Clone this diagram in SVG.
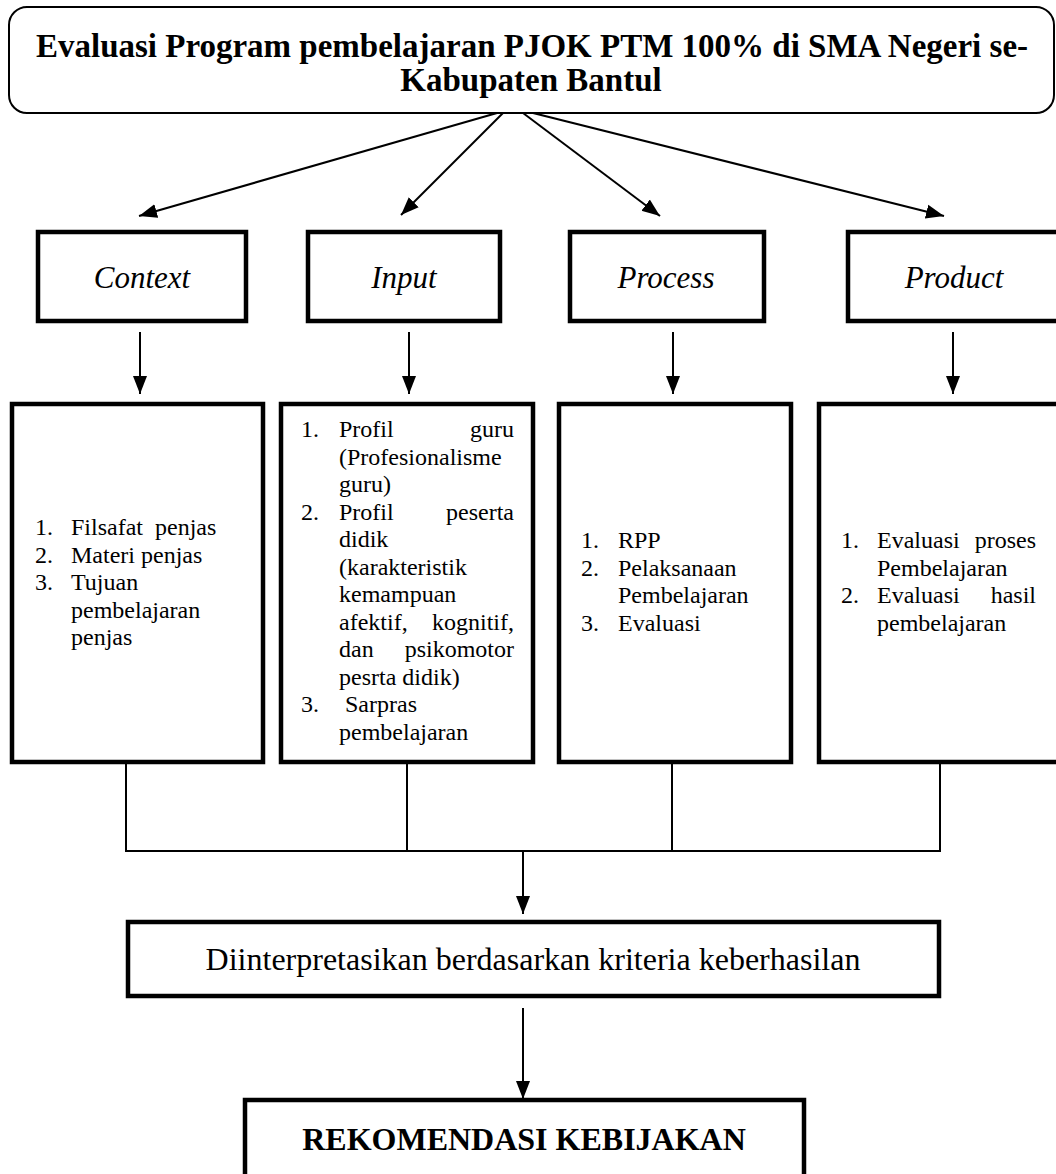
<svg xmlns="http://www.w3.org/2000/svg" width="1056" height="1174" viewBox="0 0 1056 1174">
<style>
  text { font-family: "Liberation Serif", "Times New Roman", serif; fill: #000; }
  .title { font-size: 33px; font-weight: bold; text-anchor: middle; }
  .rek { font-size: 32px; font-weight: bold; text-anchor: middle; }
  .label { font-size: 31px; font-style: italic; text-anchor: middle; }
  .item { font-size: 24px; }
  .end { text-anchor: end; }
  .mid { font-size: 32px; text-anchor: middle; }
  .box { fill: #fff; stroke: #000; stroke-width: 4.5; }
  .thin { fill: #fff; stroke: #000; stroke-width: 2; }
  .conn { fill: none; stroke: #000; stroke-width: 2; }
</style>
<defs>
  <marker id="ah" markerUnits="userSpaceOnUse" markerWidth="20" markerHeight="16" viewBox="0 0 20 16" refX="18" refY="8" orient="auto">
    <path d="M0,1 L18,8 L0,15 Z" fill="#000"/>
  </marker>
</defs>
<rect width="1056" height="1174" fill="#fff"/>

<g id="title">
  <rect class="thin" x="9" y="7" width="1045" height="106" rx="18" ry="18"/>
  <text class="title" x="532" y="57">Evaluasi Program pembelajaran PJOK PTM 100% di SMA Negeri se-</text>
  <text class="title" x="531" y="91">Kabupaten Bantul</text>
</g>

<g id="connectors">
  <line class="conn" x1="497" y1="113" x2="139" y2="216" marker-end="url(#ah)"/>
  <line class="conn" x1="503" y1="113" x2="401" y2="215" marker-end="url(#ah)"/>
  <line class="conn" x1="523" y1="113" x2="660" y2="216" marker-end="url(#ah)"/>
  <line class="conn" x1="533" y1="113" x2="944" y2="216" marker-end="url(#ah)"/>
  <line class="conn" x1="140" y1="332" x2="140" y2="394" marker-end="url(#ah)"/>
  <line class="conn" x1="409" y1="332" x2="409" y2="394" marker-end="url(#ah)"/>
  <line class="conn" x1="673" y1="332" x2="673" y2="394" marker-end="url(#ah)"/>
  <line class="conn" x1="953" y1="332" x2="953" y2="394" marker-end="url(#ah)"/>
  <line class="conn" x1="126" y1="764" x2="126" y2="851"/>
  <line class="conn" x1="407" y1="764" x2="407" y2="851"/>
  <line class="conn" x1="672" y1="764" x2="672" y2="851"/>
  <line class="conn" x1="940" y1="764" x2="940" y2="851"/>
  <line class="conn" x1="125" y1="851" x2="941" y2="851"/>
  <line class="conn" x1="523" y1="851" x2="523" y2="914" marker-end="url(#ah)"/>
  <line class="conn" x1="523" y1="1008" x2="523" y2="1099" marker-end="url(#ah)"/>
</g>

<g id="context">
  <rect class="box" x="38" y="232" width="208" height="89"/>
  <text class="label" x="142" y="288">Context</text>
</g>
<g id="input">
  <rect class="box" x="308" y="232" width="192" height="89"/>
  <text class="label" x="404" y="288">Input</text>
</g>
<g id="process">
  <rect class="box" x="570" y="232" width="194" height="89"/>
  <text class="label" x="666" y="288">Process</text>
</g>
<g id="product">
  <rect class="box" x="848" y="232" width="220" height="89"/>
  <text class="label" x="954" y="288">Product</text>
</g>

<g id="context-detail">
  <rect class="box" x="12" y="404" width="251" height="358"/>
  <text class="item" x="35" y="535">1.</text><text class="item" x="71" y="535">Filsafat&#160; penjas</text>
  <text class="item" x="35" y="562.5">2.</text><text class="item" x="71" y="562.5">Materi penjas</text>
  <text class="item" x="35" y="590">3.</text><text class="item" x="71" y="590">Tujuan</text>
  <text class="item" x="71" y="617.5">pembelajaran</text>
  <text class="item" x="71" y="645">penjas</text>
</g>

<g id="input-detail">
  <rect class="box" x="281" y="404" width="252" height="358"/>
  <text class="item" x="301" y="437">1.</text><text class="item" x="339" y="437">Profil</text><text class="item end" x="514" y="437">guru</text>
  <text class="item" x="339" y="464.5">(Profesionalisme</text>
  <text class="item" x="339" y="492">guru)</text>
  <text class="item" x="301" y="519.5">2.</text><text class="item" x="339" y="519.5">Profil</text><text class="item end" x="514" y="519.5">peserta</text>
  <text class="item" x="339" y="547">didik</text>
  <text class="item" x="339" y="574.5">(karakteristik</text>
  <text class="item" x="339" y="602">kemampuan</text>
  <text class="item" x="339" y="629.5">afektif,</text><text class="item end" x="514" y="629.5">kognitif,</text>
  <text class="item" x="339" y="657">dan</text><text class="item end" x="514" y="657">psikomotor</text>
  <text class="item" x="339" y="684.5">pesrta didik)</text>
  <text class="item" x="301" y="712">3.</text><text class="item" x="345" y="712">Sarpras</text>
  <text class="item" x="339" y="739.5">pembelajaran</text>
</g>

<g id="process-detail">
  <rect class="box" x="559" y="404" width="232" height="358"/>
  <text class="item" x="581" y="548">1.</text><text class="item" x="618" y="548">RPP</text>
  <text class="item" x="581" y="575.5">2.</text><text class="item" x="618" y="575.5">Pelaksanaan</text>
  <text class="item" x="618" y="603">Pembelajaran</text>
  <text class="item" x="581" y="630.5">3.</text><text class="item" x="618" y="630.5">Evaluasi</text>
</g>

<g id="product-detail">
  <rect class="box" x="819" y="404" width="250" height="358"/>
  <text class="item" x="841" y="548">1.</text><text class="item" x="877" y="548">Evaluasi</text><text class="item end" x="1036" y="548">proses</text>
  <text class="item" x="877" y="575.5">Pembelajaran</text>
  <text class="item" x="841" y="603">2.</text><text class="item" x="877" y="603">Evaluasi</text><text class="item end" x="1036" y="603">hasil</text>
  <text class="item" x="877" y="630.5">pembelajaran</text>
</g>

<g id="interpretasi">
  <rect class="box" x="128" y="922" width="811" height="74"/>
  <text class="mid" x="533" y="970">Diinterpretasikan berdasarkan kriteria keberhasilan</text>
</g>

<g id="rekomendasi">
  <rect class="box" x="245" y="1100" width="559" height="100"/>
  <text class="rek" x="524" y="1150">REKOMENDASI KEBIJAKAN</text>
</g>
</svg>
